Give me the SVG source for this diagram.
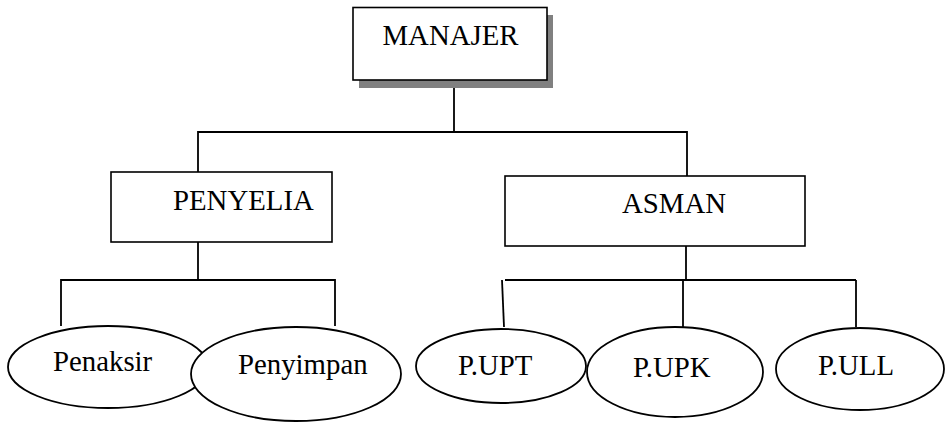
<svg xmlns="http://www.w3.org/2000/svg" width="951" height="422" viewBox="0 0 951 422">
<style>
.box{fill:#fff;stroke:#000;stroke-width:1.6}
.ell{fill:#fff;stroke:#000;stroke-width:1.8}
.ln{fill:none;stroke:#000;stroke-width:1.8}
.t{font-family:"Liberation Serif","Times New Roman",serif;font-size:28.8px;fill:#000}
</style>
<rect width="951" height="422" fill="#fff"/>
<g id="connectors">
<line class="ln" x1="454" y1="88" x2="454" y2="132"/>
<polyline class="ln" points="198,172 198,132 687,132 687,176"/>
<polyline class="ln" points="198,242 198,280"/>
<polyline class="ln" points="61,326 61,280 335,280 335,326"/>
<line class="ln" x1="686" y1="246" x2="686" y2="280"/>
<line class="ln" x1="505" y1="280" x2="856" y2="280"/>
<line class="ln" x1="502" y1="280" x2="504" y2="327"/>
<line class="ln" x1="683" y1="280" x2="683" y2="327"/>
<line class="ln" x1="856" y1="280" x2="856" y2="327"/>
</g>
<g id="manajer">
<rect x="359" y="15" width="194" height="73" fill="#808080"/>
<rect class="box" x="353" y="7.5" width="194" height="72.5"/>
<text class="t" x="382.5" y="45">MANAJER</text>
</g>
<g id="penyelia">
<rect class="box" x="111" y="172" width="221" height="70"/>
<text class="t" x="173" y="210">PENYELIA</text>
</g>
<g id="asman">
<rect class="box" x="505" y="176" width="300" height="70"/>
<text class="t" x="622" y="213">ASMAN</text>
</g>
<g id="penaksir">
<ellipse class="ell" cx="108" cy="367" rx="100" ry="41"/>
<text class="t" x="53" y="371">Penaksir</text>
</g>
<g id="penyimpan">
<ellipse class="ell" cx="296" cy="374" rx="105" ry="47"/>
<text class="t" x="238" y="374">Penyimpan</text>
</g>
<g id="pupt">
<ellipse class="ell" cx="501" cy="366" rx="85" ry="37"/>
<text class="t" x="458" y="375">P.UPT</text>
</g>
<g id="pupk">
<ellipse class="ell" cx="675" cy="372" rx="88" ry="45"/>
<text class="t" x="633" y="377">P.UPK</text>
</g>
<g id="pull">
<ellipse class="ell" cx="860" cy="369" rx="84" ry="41"/>
<text class="t" x="818" y="375">P.ULL</text>
</g>
</svg>
